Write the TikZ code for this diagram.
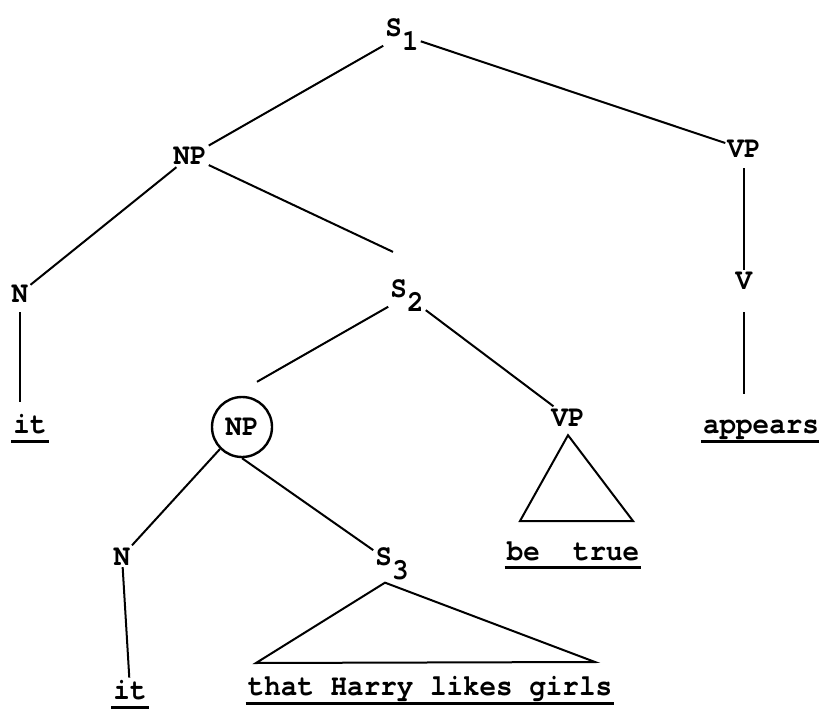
\documentclass[tikz,border=0pt]{standalone}
\usepackage{fontspec}
\usepackage{tikz}
\newfontfamily\typer[FakeStretch=0.92]{TeX Gyre Cursor}
\newcommand\tyfont{\typer\bfseries\fontsize{30pt}{32pt}\selectfont}
\newcommand\lowsub[1]{\raisebox{-14pt}{#1}}

\begin{document}
\begin{tikzpicture}[
  x=1pt, y=-1pt,
  cat/.style={font=\tyfont, inner sep=2pt, anchor=base},
  word/.style={font=\tyfont, inner sep=2pt, anchor=base},
  focus/.style={circle, draw, line width=2.4pt, minimum size=60pt,
                inner sep=0pt, font=\tyfont},
  branch/.style={line width=2pt},
  ul/.style={line width=3pt}
]
  \useasboundingbox (0,0) rectangle (819,711);

  % categories
  \node[cat] (s1) at (402,37) {S\lowsub{1}};
  \node[cat] (np1) at (190,165) {NP};
  \node[cat] (vp1) at (744,158) {VP};
  \node[cat] (n1) at (20,302) {N};
  \node[cat] (s2) at (407,298) {S\lowsub{2}};
  \node[cat] (v) at (744,290) {V};
  \node[focus] (npc) at (242,427) {NP};
  \node[cat] (vp2) at (568,426) {VP};
  \node[cat] (n2) at (122,565) {N};
  \node[cat] (s3) at (392,565) {S\lowsub{3}};

  % words
  \node[word] (it1) at (30,433) {it};
  \node[word] (appears) at (761,433) {appears};
  \node[word] (betrue) at (573,560) {be~~true};
  \node[word] (it2) at (130,699) {it};
  \node[word] (girls) at (430,695) {that Harry likes girls};

  % branches
  \draw[branch] (s1) -- (np1);
  \draw[branch] (s1) -- (vp1);
  \draw[branch] (np1) -- (n1);
  \draw[branch] (np1) -- ([xshift=-14pt,yshift=26pt]s2.north);
  \draw[branch, shorten <=8pt] (vp1.south) -- (vp1.south |- v.north);
  \draw[branch, shorten <=20pt, shorten >=23pt] (v.south) -- (v.south |- appears.north);
  \draw[branch, shorten <=8pt, shorten >=10pt] (n1.south) -- (n1.south |- it1.north);
  \draw[branch] (s2) -- ([xshift=15pt,yshift=14pt]npc.north);
  \draw[branch] (s2) -- (vp2);
  \draw[branch] (npc.south west) -- (n2);
  \draw[branch] (npc.south) -- (s3);
  \draw[branch] (n2) -- (it2);

  % roofs
  \coordinate (btl) at (520,521);
  \coordinate (btr) at (633,521);
  \coordinate (hgl) at (256,663);
  \coordinate (hgr) at (595,662);
  \draw[branch] ([yshift=-7pt]vp2.south) -- (btl) -- (btr) -- cycle;
  \draw[branch] ([xshift=-7pt,yshift=-1pt]s3.south) -- (hgl) -- (hgr) -- cycle;

  % underlines
  \draw[ul] ([yshift=-8pt]it1.base west) -- ([yshift=-8pt]it1.base east);
  \draw[ul] ([yshift=-8pt]appears.base west) -- ([yshift=-8pt]appears.base east);
  \draw[ul] ([yshift=-7pt]betrue.base west) -- ([yshift=-7pt]betrue.base east);
  \draw[ul] ([yshift=-8pt]it2.base west) -- ([yshift=-8pt]it2.base east);
  \draw[ul] ([yshift=-8pt]girls.base west) -- ([yshift=-8pt]girls.base east);
\end{tikzpicture}
\end{document}
